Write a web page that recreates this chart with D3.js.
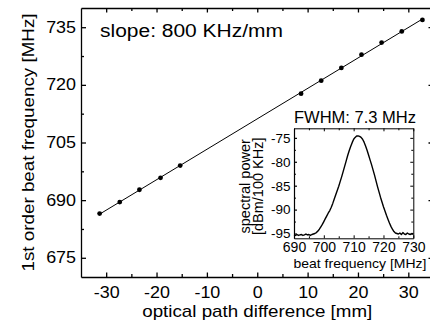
<!DOCTYPE html>
<html>
<head>
<meta charset="utf-8">
<script src="https://cdn.jsdelivr.net/npm/d3@7"></script>
<style>
  html, body { margin: 0; padding: 0; background: #fff; }
  svg { display: block; font-family: "Liberation Sans", Arial, Helvetica, sans-serif; }
</style>
</head>
<body>
<svg id="chart" width="430" height="325"></svg>
<script>
// Beat frequency of the 1st diffraction order vs. optical path difference
const pathDiff = [-31.3, -27.3, -23.4, -19.2, -15.3, 8.7, 12.7, 16.7, 20.7, 24.7, 28.7, 32.8];
const beatFreq = [686.5, 689.5, 692.7, 695.8, 699.0, 717.7, 721.1, 724.4, 727.85, 731.0, 733.9, 736.9];

const xTicks = [-30, -20, -10, 0, 10, 20, 30];
const xMinorTicks = [-25, -15, -5, 5, 15, 25];
const yTicks = [675, 690, 705, 720, 735];
const yMinorTicks = [682.5, 697.5, 712.5, 727.5];

const slopeLabel = "slope: 800 KHz/mm";
const xLabel = "optical path difference [mm]";
const yLabel = "1st order beat frequency [MHz]";

// Inset: beat-note spectrum
const specFreq = [
  690, 690.5, 691, 691.5, 692, 692.5, 693, 693.5, 694, 694.5,
  695, 695.5, 696, 696.5, 697, 697.5, 698, 698.5, 699, 699.5,
  700, 700.5, 701, 701.5, 702, 702.5, 703, 703.5, 704, 704.5,
  705, 705.5, 706, 706.5, 707, 707.5, 708, 708.5, 709, 709.5,
  710, 710.5, 711, 711.5, 712, 712.5, 713, 713.5, 714, 714.5,
  715, 715.5, 716, 716.5, 717, 717.5, 718, 718.5, 719, 719.5,
  720, 720.5, 721, 721.5, 722, 722.5, 723, 723.5, 724, 724.5,
  725, 725.5, 726, 726.5, 727, 727.5, 728, 728.5, 729, 729.5, 730
];
const specPower = [
  -95.3, -95.4, -95.2, -95.4, -95.3, -95.2, -95.4, -95.3, -95.1, -95.3,
  -95.2, -95.4, -95.2, -95.1, -95.0, -94.8, -94.5, -94.1, -93.6, -93.1,
  -92.5, -91.9, -91.3, -90.7, -90.2, -89.5, -88.7, -87.8, -86.9, -86.0,
  -85.1, -84.1, -83.1, -82.0, -80.9, -79.8, -78.7, -77.7, -76.8, -76.0,
  -75.3, -74.9, -74.6, -74.6, -74.7, -74.9, -75.3, -75.9, -76.7, -77.6,
  -78.6, -79.6, -80.6, -81.7, -82.8, -84.0, -85.2, -86.3, -87.4, -88.4,
  -89.4, -90.3, -91.2, -92.0, -92.8, -93.5, -94.1, -94.6, -94.9, -95.0,
  -95.1, -94.9, -95.2, -94.8, -95.1, -95.2, -94.9, -95.1, -95.2, -95.0, -95.1
];
const insetXTicks = [690, 700, 710, 720, 730];
const insetXMinor = [695, 705, 715, 725];
const insetYTicks = [-95, -90, -85, -80, -75];
const insetYMinor = [-92.5, -87.5, -82.5, -77.5];
const insetTitle = "FWHM: 7.3 MHz";
const insetXLabel = "beat frequency [MHz]";
const insetYLabel = ["spectral power", "[dBm/100 KHz]"];

const svg = d3.select("#chart");

// ---------- main plot ----------
const x = d3.scaleLinear().domain([-35, 35]).range([81, 433.5]);
const y = d3.scaleLinear().domain([670, 740]).range([277, 8]);
const [x0, x1] = x.range();
const [yb, yt] = y.range();

function styleAxis(g, sw, fs, stretch) {
  g.attr("font-family", null).attr("font-size", fs);
  g.selectAll("path, line").attr("stroke", "#000").attr("stroke-width", sw);
  g.selectAll("text").attr("fill", "#000").each(function () {
    const t = d3.select(this);
    const tx = +t.attr("x") || 0;
    t.attr("x", tx / stretch).attr("transform", `scale(${stretch},1)`);
  });
}
function minorAxis(g, sw) {
  g.select(".domain").remove();
  g.selectAll("line").attr("stroke", "#000").attr("stroke-width", sw);
}
const fmt = d => String(d);

// bottom
svg.append("g").attr("transform", `translate(0,${yb})`)
  .call(d3.axisBottom(x).tickValues(xTicks).tickSizeInner(-4.5).tickSizeOuter(0).tickPadding(10).tickFormat(fmt))
  .call(g => styleAxis(g, 1.3, 16, 1.12));
svg.append("g").attr("transform", `translate(0,${yb})`)
  .call(d3.axisBottom(x).tickValues(xMinorTicks).tickSizeInner(-3).tickSizeOuter(0).tickFormat(""))
  .call(g => minorAxis(g, 1.3));
// top
svg.append("g").attr("transform", `translate(0,${yt})`)
  .call(d3.axisTop(x).tickValues(xTicks).tickSizeInner(-4.5).tickSizeOuter(0).tickFormat(""))
  .call(g => styleAxis(g, 1.3, 16, 1));
svg.append("g").attr("transform", `translate(0,${yt})`)
  .call(d3.axisTop(x).tickValues(xMinorTicks).tickSizeInner(-3).tickSizeOuter(0).tickFormat(""))
  .call(g => minorAxis(g, 1.3));
// left
svg.append("g").attr("transform", `translate(${x0},0)`)
  .call(d3.axisLeft(y).tickValues(yTicks).tickSizeInner(-5).tickSizeOuter(0).tickPadding(5).tickFormat(fmt))
  .call(g => styleAxis(g, 1.3, 16, 1.12));
svg.append("g").attr("transform", `translate(${x0},0)`)
  .call(d3.axisLeft(y).tickValues(yMinorTicks).tickSizeInner(-3).tickSizeOuter(0).tickFormat(""))
  .call(g => minorAxis(g, 1.3));
// right
svg.append("g").attr("transform", `translate(${x1},0)`)
  .call(d3.axisRight(y).tickValues(yTicks).tickSizeInner(-5).tickSizeOuter(0).tickFormat(""))
  .call(g => styleAxis(g, 1.3, 16, 1));

// least-squares line through the measured points
const mx = d3.mean(pathDiff), my = d3.mean(beatFreq);
const sxy = d3.sum(pathDiff, (v, i) => (v - mx) * (beatFreq[i] - my));
const sxx = d3.sum(pathDiff, v => (v - mx) * (v - mx));
const slope = sxy / sxx, icpt = my - slope * mx;
const fitX = d3.extent(pathDiff);
svg.append("path")
  .datum(fitX)
  .attr("fill", "none").attr("stroke", "#000").attr("stroke-width", 1)
  .attr("d", d3.line().x(d => x(d)).y(d => y(icpt + slope * d)));

svg.append("g").selectAll("circle")
  .data(pathDiff.map((v, i) => [v, beatFreq[i]]))
  .join("circle")
  .attr("cx", d => x(d[0])).attr("cy", d => y(d[1]))
  .attr("r", 2.4).attr("fill", "#000");

svg.append("text")
  .attr("x", 100).attr("y", 36.5)
  .attr("font-size", 18).attr("textLength", 183).attr("lengthAdjust", "spacingAndGlyphs")
  .text(slopeLabel);

svg.append("text")
  .attr("x", (x0 + x1) / 2).attr("y", 317)
  .attr("text-anchor", "middle").attr("font-size", 17)
  .attr("textLength", 230).attr("lengthAdjust", "spacingAndGlyphs")
  .text(xLabel);

svg.append("text")
  .attr("transform", `translate(33.5,${(yb + yt) / 2}) rotate(-90)`)
  .attr("text-anchor", "middle").attr("font-size", 17)
  .attr("textLength", 258).attr("lengthAdjust", "spacingAndGlyphs")
  .text(yLabel);

// ---------- inset ----------
const ix = d3.scaleLinear().domain([690, 730]).range([294, 413.3]);
const iy = d3.scaleLinear().domain([-96, -73]).range([238.3, 128.3]);
const [ix0, ix1] = ix.range();
const [iyb, iyt] = iy.range();

svg.append("rect")
  .attr("x", ix0).attr("y", iyt).attr("width", ix1 - ix0).attr("height", iyb - iyt)
  .attr("fill", "#fff");

svg.append("g").attr("transform", `translate(0,${iyb})`)
  .call(d3.axisBottom(ix).tickValues(insetXTicks).tickSizeInner(-3).tickSizeOuter(0).tickPadding(4).tickFormat(fmt))
  .call(g => styleAxis(g, 1, 14, 1));
svg.append("g").attr("transform", `translate(0,${iyb})`)
  .call(d3.axisBottom(ix).tickValues(insetXMinor).tickSizeInner(-2).tickSizeOuter(0).tickFormat(""))
  .call(g => minorAxis(g, 1));
svg.append("g").attr("transform", `translate(0,${iyt})`)
  .call(d3.axisTop(ix).tickValues(insetXTicks).tickSizeInner(-3).tickSizeOuter(0).tickFormat(""))
  .call(g => styleAxis(g, 1, 14, 1));
svg.append("g").attr("transform", `translate(0,${iyt})`)
  .call(d3.axisTop(ix).tickValues(insetXMinor).tickSizeInner(-2).tickSizeOuter(0).tickFormat(""))
  .call(g => minorAxis(g, 1));
svg.append("g").attr("transform", `translate(${ix0},0)`)
  .call(d3.axisLeft(iy).tickValues(insetYTicks).tickSizeInner(-3).tickSizeOuter(0).tickPadding(3.5).tickFormat(fmt))
  .call(g => styleAxis(g, 1.2, 13.5, 1));
svg.append("g").attr("transform", `translate(${ix0},0)`)
  .call(d3.axisLeft(iy).tickValues(insetYMinor).tickSizeInner(-2).tickSizeOuter(0).tickFormat(""))
  .call(g => minorAxis(g, 1));
svg.append("g").attr("transform", `translate(${ix1},0)`)
  .call(d3.axisRight(iy).tickValues(insetYTicks).tickSizeInner(-3).tickSizeOuter(0).tickFormat(""))
  .call(g => styleAxis(g, 1, 14, 1));
svg.append("g").attr("transform", `translate(${ix1},0)`)
  .call(d3.axisRight(iy).tickValues(insetYMinor).tickSizeInner(-2).tickSizeOuter(0).tickFormat(""))
  .call(g => minorAxis(g, 1));

svg.append("path")
  .datum(specFreq.map((f, i) => [f, specPower[i]]))
  .attr("fill", "none").attr("stroke", "#000").attr("stroke-width", 1.4)
  .attr("stroke-linejoin", "round")
  .attr("d", d3.line().x(d => ix(d[0])).y(d => iy(d[1])));

svg.append("text")
  .attr("x", 355).attr("y", 123)
  .attr("text-anchor", "middle").attr("font-size", 16)
  .attr("textLength", 122).attr("lengthAdjust", "spacingAndGlyphs")
  .text(insetTitle);

svg.append("text")
  .attr("x", 360).attr("y", 267.5)
  .attr("text-anchor", "middle").attr("font-size", 13.5)
  .attr("textLength", 133).attr("lengthAdjust", "spacingAndGlyphs")
  .text(insetXLabel);

svg.append("g")
  .attr("transform", `translate(249.5,${(iyb + iyt) / 2 + 3}) rotate(-90)`)
  .selectAll("text")
  .data(insetYLabel)
  .join("text")
  .attr("x", 0).attr("y", (d, i) => i * 13.5)
  .attr("text-anchor", "middle").attr("font-size", 14.5)
  .text(d => d);
</script>
</body>
</html>
